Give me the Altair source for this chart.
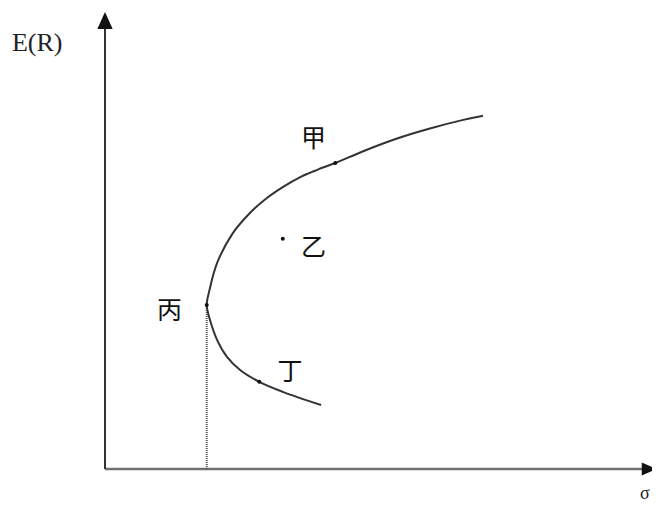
import altair as alt
import pandas as pd

# Efficient frontier curve (sigma, E(R)), from the lower end up to the top end
sigma_curve = [3.95, 3.25, 2.82, 2.47, 2.23, 2.05, 1.92, 1.86,
               1.91, 2.05, 2.34, 2.65, 2.96, 3.25, 3.57, 3.88, 4.21, 4.72, 5.34, 5.94, 6.55, 6.91]
er_curve = [1.41, 1.70, 1.92, 2.18, 2.47, 2.84, 3.28, 3.61,
            3.94, 4.54, 5.20, 5.64, 5.97, 6.21, 6.43, 6.59, 6.74, 7.00, 7.28, 7.50, 7.69, 7.78]

# Portfolios
point_names = ["甲", "乙", "丙", "丁"]
point_sigma = [4.21, 3.25, 1.86, 2.82]
point_er = [6.74, 5.07, 3.61, 1.92]
label_sigma = [3.81, 3.81, 1.18, 3.38]
label_er = [7.27, 4.86, 3.47, 2.13]

# Axis titles
axis_titles = ["E(R)", "σ"]
axis_title_x = [-1.24, 9.87]
axis_title_y = [9.38, -0.55]

xs = alt.Scale(domain=[0, 10], range=[97, 644], nice=False, zero=False)
ys = alt.Scale(domain=[0, 10], range=[461, 7], nice=False, zero=False)


def X(f="x"):
    return alt.X(f"{f}:Q", scale=xs, axis=None)


def Y(f="y"):
    return alt.Y(f"{f}:Q", scale=ys, axis=None)


curve_df = pd.DataFrame({"x": sigma_curve, "y": er_curve, "o": list(range(len(sigma_curve)))})
pts_df = pd.DataFrame({"x": point_sigma, "y": point_er, "name": point_names})
lab_df = pd.DataFrame({"x": label_sigma, "y": label_er, "name": point_names})
ttl_df = pd.DataFrame({"x": axis_title_x, "y": axis_title_y, "t": axis_titles})

yaxis_df = pd.DataFrame({"x": [0], "y": [0], "y2": [9.9]})
xaxis_df = pd.DataFrame({"x": [0], "x2": [9.9], "y": [0]})
drop_df = pd.DataFrame({"x": [point_sigma[2]], "y": [0], "y2": [point_er[2]]})
yarrow_df = pd.DataFrame({"x": [0], "y": [9.88]})
xarrow_df = pd.DataFrame({"x": [9.95], "y": [0]})

yaxis = alt.Chart(yaxis_df).mark_rule(color="#333333", strokeWidth=2).encode(
    x=X(), y=Y(), y2="y2:Q")
xaxis = alt.Chart(xaxis_df).mark_rule(color="#707070", strokeWidth=2.5).encode(
    x=X(), x2="x2:Q", y=Y())
drop = alt.Chart(drop_df).mark_rule(color="#555555", strokeWidth=2, strokeDash=[1, 1]).encode(
    x=X(), y=Y(), y2="y2:Q")
yarrow = alt.Chart(yarrow_df).mark_point(
    shape="M0,-1L0.9,1L-0.9,1Z", filled=True, color="#111111", size=289, opacity=1
).encode(x=X(), y=Y())
xarrow = alt.Chart(xarrow_df).mark_point(
    shape="M1,0L-1,-0.87L-1,0.87Z", filled=True, color="#111111", size=225, opacity=1
).encode(x=X(), y=Y())

curve = alt.Chart(curve_df).mark_line(
    color="#333333", strokeWidth=2, interpolate="catmull-rom"
).encode(x=X(), y=Y(), order="o:Q")

pts = alt.Chart(pts_df).mark_circle(color="#111111", size=16, opacity=1).encode(x=X(), y=Y())

labels = alt.Chart(lab_df).mark_text(
    font="Noto Sans CJK SC", fontSize=25, color="#111111", align="center", baseline="middle"
).encode(x=X(), y=Y(), text="name:N")

titles = alt.Chart(ttl_df).mark_text(
    font="Liberation Serif", color="#222222", align="center", baseline="middle"
).encode(x=X(), y=Y(), text="t:N",
         size=alt.Size("t:N", scale=alt.Scale(domain=axis_titles, range=[26, 18]), legend=None))

chart = alt.layer(xaxis, yaxis, drop, curve, pts, yarrow, xarrow, labels, titles).properties(
    width=644, height=497, padding=0, autosize="none", background="white"
).configure_view(stroke=None)

chart.save("out.html", embed_options={"renderer": "svg", "actions": False})
